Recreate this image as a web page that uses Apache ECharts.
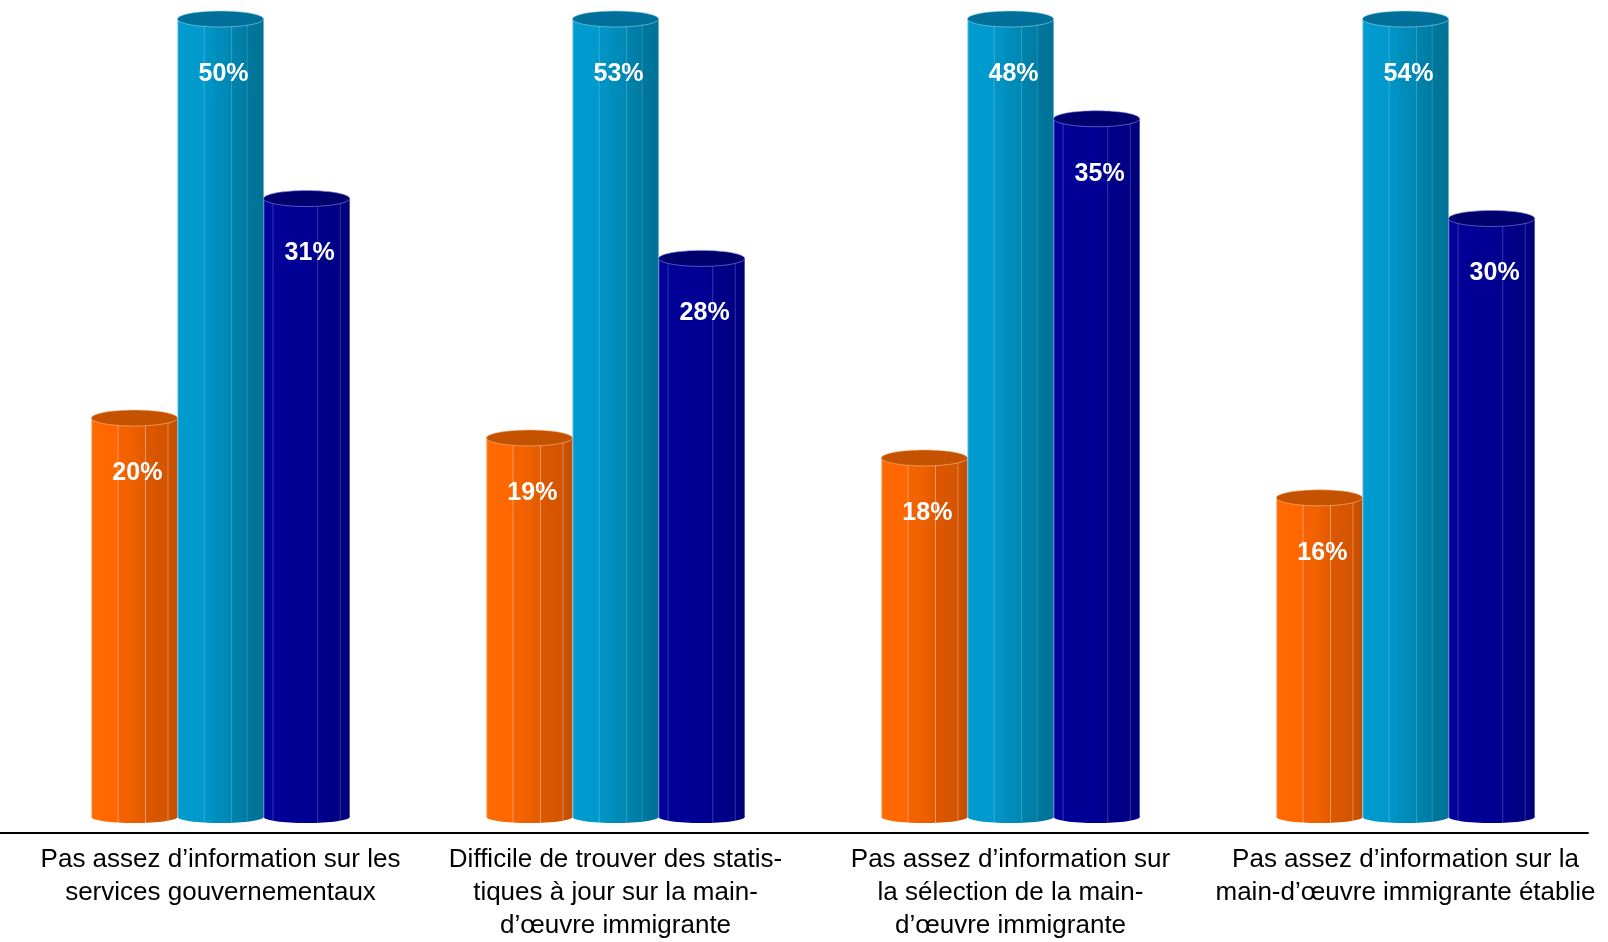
<!DOCTYPE html>
<html>
<head>
<meta charset="utf-8">
<script src="https://cdn.jsdelivr.net/npm/echarts@6/dist/echarts.min.js"></script>
<style>
  html, body { margin: 0; padding: 0; background: #ffffff; }
  #chart { width: 1608px; height: 942px; }
</style>
</head>
<body>
<div id="chart"></div>
<script>
// Catégories (axe horizontal)
const CATEGORIES = [
  'Pas assez d\u2019information sur les\nservices gouvernementaux',
  'Difficile de trouver des statis-\ntiques \u00e0 jour sur la main-\nd\u2019\u0153uvre immigrante',
  'Pas assez d\u2019information sur\nla s\u00e9lection de la main-\nd\u2019\u0153uvre immigrante',
  'Pas assez d\u2019information sur la\nmain-d\u2019\u0153uvre immigrante \u00e9tablie'
];

// Valeurs en pourcentage, une liste par série
const VALUES_ORANGE = [20, 19, 18, 16];
const VALUES_BLEU_CLAIR = [50, 53, 48, 54];
const VALUES_BLEU_FONCE = [31, 28, 35, 30];

// Bornes de l'axe vertical (les colonnes plus hautes sont tronquées au sommet)
const Y_MIN = 0;
const Y_MAX = 40;

// Apparence des cylindres
const BAR_RATIO = 0.218;
const LABEL_DROP = 55;
const PALETTES = {
  orange: {
    cap: '#c45200', rim: 'rgba(255,190,140,0.6)',
    stops: [
      [0, '#f6a060'], [0.02, '#ff6a00'], [0.3, '#ff6600'], [0.31, '#f9a070'], [0.32, '#f56300'],
      [0.5, '#ee6000'], [0.62, '#e35a00'], [0.63, '#e8a070'], [0.64, '#dc5700'],
      [0.88, '#d45400'], [0.89, '#e09060'], [0.9, '#cc5100'], [1, '#c44d00']
    ]
  },
  bleuClair: {
    cap: '#00709b', rim: 'rgba(150,210,240,0.6)',
    stops: [
      [0, '#60c0e6'], [0.02, '#009ccf'], [0.3, '#0099cc'], [0.31, '#40b0d8'], [0.32, '#0096c8'],
      [0.42, '#0092c2'], [0.43, '#008fbe'], [0.62, '#0088b4'], [0.63, '#40a0c8'], [0.64, '#0083ad'],
      [0.8, '#007ca3'], [0.81, '#3090b8'], [0.82, '#00779c'], [1, '#007296']
    ]
  },
  bleuFonce: {
    cap: '#00006e', rim: 'rgba(140,140,230,0.6)',
    stops: [
      [0, '#5050c0'], [0.02, '#00009c'], [0.1, '#000099'], [0.11, '#4040b8'], [0.12, '#000098'],
      [0.5, '#000094'], [0.62, '#00008e'], [0.63, '#4040b0'], [0.64, '#00008b'],
      [0.88, '#000084'], [0.89, '#3a3aa8'], [0.9, '#000080'], [1, '#00007a']
    ]
  }
};

function makeRenderItem(slot, palette) {
  return function (params, api) {
    const c = api.value(0);
    const v = api.value(1);
    const bandW = api.size([1, 0])[0];
    const w = bandW * BAR_RATIO;
    const base = api.coord([c, Y_MIN]);
    const top = api.coord([c, Math.min(v, Y_MAX)]);
    const cx = base[0] + slot * w;
    const x0 = cx - w / 2;
    const body = { type: 'linear', x: 0, y: 0, x2: 1, y2: 0, colorStops: palette.stops.map(s => ({ offset: s[0], color: s[1] })) };
    return {
      type: 'group',
      children: [
        { type: 'rect', shape: { x: x0, y: top[1], width: w, height: base[1] - top[1] }, style: { fill: body } },
        { type: 'ellipse', shape: { cx: cx, cy: base[1], rx: w / 2, ry: 6 }, style: { fill: body } },
        { type: 'ellipse', shape: { cx: cx, cy: top[1], rx: w / 2, ry: 8 }, style: { fill: palette.cap, stroke: palette.rim, lineWidth: 1 } },
        {
          type: 'text', x: cx + 3, y: top[1] + LABEL_DROP,
          style: { text: v + '%', fill: '#ffffff', font: 'bold 25px "Liberation Sans", Arial, sans-serif', align: 'center', verticalAlign: 'middle' }
        }
      ]
    };
  };
}

function toData(values) {
  return values.map((v, i) => [i, v]);
}

const chart = echarts.init(document.getElementById('chart'), null, { renderer: 'canvas' });

chart.setOption({
  backgroundColor: '#ffffff',
  animation: false,
  grid: [
    { left: 23, right: 5, top: 19, bottom: 123 },
    { left: 0, right: 20, top: 19, bottom: 123 }
  ],
  xAxis: [
    {
      type: 'category', gridIndex: 0, data: CATEGORIES,
      axisLine: { show: false }, axisTick: { show: false }, splitLine: { show: false },
      axisLabel: {
        interval: 0, margin: 26, color: '#000000',
        fontFamily: '"Liberation Sans", Arial, sans-serif', fontSize: 26, lineHeight: 33, align: 'center'
      }
    },
    {
      type: 'value', gridIndex: 1, min: 0, max: 1, offset: 14,
      axisLine: { show: true, onZero: false, lineStyle: { color: '#000000', width: 2 } },
      axisTick: { show: false }, axisLabel: { show: false }, splitLine: { show: false }
    }
  ],
  yAxis: [
    { type: 'value', gridIndex: 0, min: Y_MIN, max: Y_MAX, show: false },
    { type: 'value', gridIndex: 1, min: 0, max: 1, show: false }
  ],
  series: [
    { type: 'custom', name: 'orange', xAxisIndex: 0, yAxisIndex: 0, renderItem: makeRenderItem(-1, PALETTES.orange), data: toData(VALUES_ORANGE), encode: { x: 0, y: 1 } },
    { type: 'custom', name: 'bleuClair', xAxisIndex: 0, yAxisIndex: 0, renderItem: makeRenderItem(0, PALETTES.bleuClair), data: toData(VALUES_BLEU_CLAIR), encode: { x: 0, y: 1 } },
    { type: 'custom', name: 'bleuFonce', xAxisIndex: 0, yAxisIndex: 0, renderItem: makeRenderItem(1, PALETTES.bleuFonce), data: toData(VALUES_BLEU_FONCE), encode: { x: 0, y: 1 } }
  ]
});
</script>
</body>
</html>
